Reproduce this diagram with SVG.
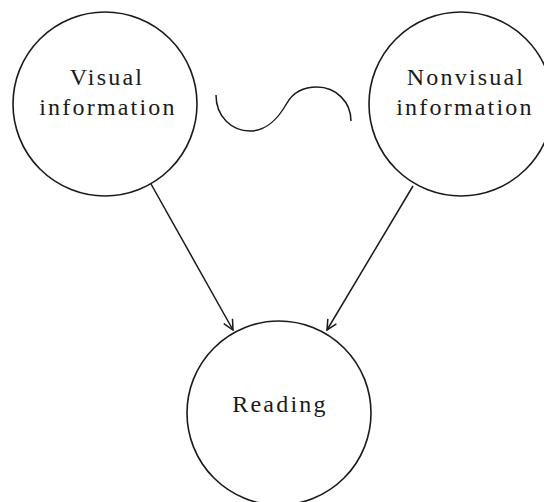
<svg xmlns="http://www.w3.org/2000/svg" width="544" height="502" viewBox="0 0 544 502">
<style>
.node{fill:none;stroke:#1a1a1a;stroke-width:1.6}
.lbl{font-family:"Liberation Serif","Times New Roman",serif;font-size:24px;fill:#1a1a1a;text-anchor:middle;letter-spacing:2.2px}
.edge{fill:none;stroke:#1a1a1a;stroke-width:1.5}
</style>
<defs>
<marker id="arr" viewBox="0 0 12 12" refX="11" refY="6" markerWidth="12" markerHeight="12" markerUnits="userSpaceOnUse" orient="auto">
<path d="M1,1 L11,6 L1,11" fill="none" stroke="#1a1a1a" stroke-width="1.5"/>
</marker>
</defs>
<rect width="544" height="502" fill="#fff"/>
<g id="visual">
<circle class="node" cx="105" cy="104" r="92"/>
<text class="lbl" x="107" y="85">Visual</text>
<text class="lbl" x="108" y="115">information</text>
</g>
<g id="nonvisual">
<circle class="node" cx="461" cy="104" r="92"/>
<text class="lbl" x="466" y="85">Nonvisual</text>
<text class="lbl" x="465" y="115">information</text>
</g>
<g id="reading">
<circle class="node" cx="279" cy="413" r="92"/>
<text class="lbl" x="280" y="412">Reading</text>
</g>
<g id="wave">
<path class="edge" d="M216,95 C216,117 232,131 250,131 C268,131 279,117 287,103 C294,91 305,87 317,87 C336,87 351,102 351,121"/>
</g>
<g id="connectors">
<line class="edge" x1="151" y1="184" x2="233" y2="330" marker-end="url(#arr)"/>
<line class="edge" x1="413" y1="186" x2="327" y2="330" marker-end="url(#arr)"/>
</g>
</svg>
